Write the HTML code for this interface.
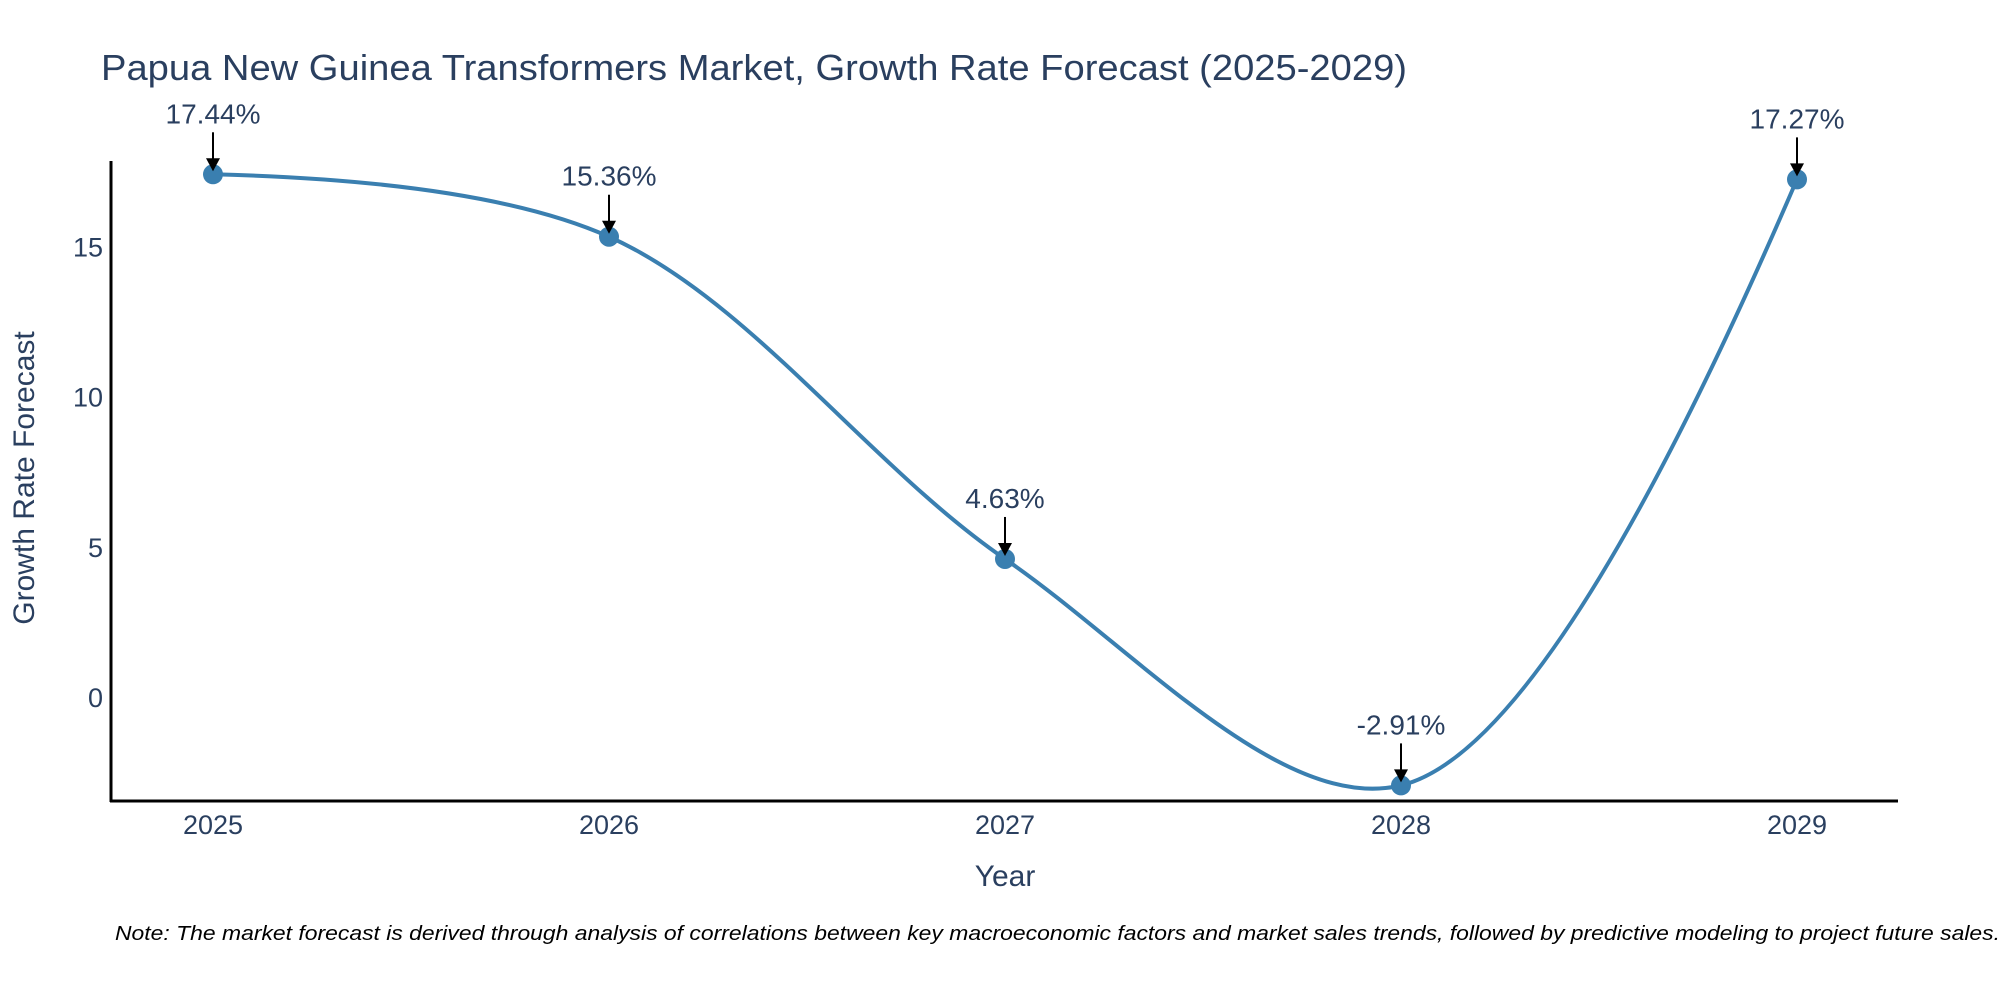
<!DOCTYPE html>
<html><head><meta charset="utf-8"><style>
html,body{margin:0;padding:0;background:#fff;}
svg{display:block;font-family:"Liberation Sans","DejaVu Sans",sans-serif;}
</style></head><body>
<svg id="chart" width="2000" height="1000" viewBox="0 0 2000 1000">
<text x="101" y="80" font-size="36" fill="#2a3f5f" textLength="1306" lengthAdjust="spacingAndGlyphs">Papua New Guinea Transformers Market, Growth Rate Forecast (2025-2029)</text>
<g id="yticks"></g>
<g id="xticks"></g>
<line x1="111" y1="161" x2="111" y2="802" stroke="#000" stroke-width="3"/>
<line x1="110" y1="801" x2="1898" y2="801" stroke="#000" stroke-width="3"/>
<path id="line" fill="none" stroke="#3a7fb0" stroke-width="4"/>
<g id="points"></g>
<g id="annots"></g>
<text x="1005" y="886" font-size="30" fill="#2a3f5f" text-anchor="middle">Year</text>
<text transform="translate(34,478) rotate(-90)" font-size="30" fill="#2a3f5f" text-anchor="middle">Growth Rate Forecast</text>
<text x="115" y="940" font-size="20" font-style="italic" fill="#000" textLength="1885" lengthAdjust="spacingAndGlyphs">Note: The market forecast is derived through analysis of correlations between key macroeconomic factors and market sales trends, followed by predictive modeling to project future sales.</text>
</svg>
<script>
const years = [2025, 2026, 2027, 2028, 2029];
const values = [17.44, 15.36, 4.63, -2.91, 17.27];
const labels = ["17.44%", "15.36%", "4.63%", "-2.91%", "17.27%"];
const yTicks = [0, 5, 10, 15];

const NS = "http://www.w3.org/2000/svg";
const xScale = y => 213 + (y - 2025) * 396;
const yScale = v => 698 - v * 30.03;
function mk(tag, attrs, parent){const e=document.createElementNS(NS,tag);for(const k in attrs)e.setAttribute(k,attrs[k]);parent.appendChild(e);return e;}

const yt=document.getElementById('yticks');
yTicks.forEach(t=>{
  const e=mk('text',{x:103,y:yScale(t)+9,'font-size':27,fill:'#2a3f5f','text-anchor':'end'},yt);
  
  
  e.textContent=t;
});
const xt=document.getElementById('xticks');
years.forEach(y=>{
  const e=mk('text',{x:xScale(y),y:834,'font-size':27,fill:'#2a3f5f','text-anchor':'middle'},xt);
  
  
  e.textContent=y;
});

const pts=years.map((y,i)=>[xScale(y),yScale(values[i])]);
function tangent(a,b,c,s){
  const d1x=a[0]-b[0],d1y=a[1]-b[1],d2x=c[0]-b[0],d2y=c[1]-b[1];
  const d1a=Math.pow(d1x*d1x+d1y*d1y,0.25),d2a=Math.pow(d2x*d2x+d2y*d2y,0.25);
  const nx=(d2a*d2a*d1x-d1a*d1a*d2x)*s,ny=(d2a*d2a*d1y-d1a*d1a*d2y)*s;
  const den1=3*d2a*(d1a+d2a),den2=3*d1a*(d1a+d2a);
  return [[b[0]+nx/den1,b[1]+ny/den1],[b[0]-nx/den2,b[1]-ny/den2]];
}
const tg=[];
for(let i=1;i<pts.length-1;i++)tg.push(tangent(pts[i-1],pts[i],pts[i+1],1));
let d=`M${pts[0]} Q${tg[0][0]} ${pts[1]}`;
for(let i=2;i<pts.length-1;i++)d+=` C${tg[i-2][1]} ${tg[i-1][0]} ${pts[i]}`;
d+=` Q${tg[tg.length-1][1]} ${pts[pts.length-1]}`;
document.getElementById('line').setAttribute('d',d);

const pg=document.getElementById('points'), ag=document.getElementById('annots');
pts.forEach((p,i)=>{
  const c=mk('circle',{cx:p[0],cy:p[1],r:10,fill:'#3a7fb0'},pg);
  
  
  const l=mk('line',{x1:p[0],y1:p[1]-42,x2:p[0],y2:p[1]-12,stroke:'#000','stroke-width':2},ag);
  
  
  const h=mk('polygon',{points:`${p[0]-7},${p[1]-16} ${p[0]+7},${p[1]-16} ${p[0]},${p[1]-3}`,fill:'#000'},ag);
  
  
  const t=mk('text',{x:p[0],y:p[1]-51,'font-size':28,fill:'#2a3f5f','text-anchor':'middle'},ag);
  
  
  t.textContent=labels[i];
});
</script>
</body></html>
